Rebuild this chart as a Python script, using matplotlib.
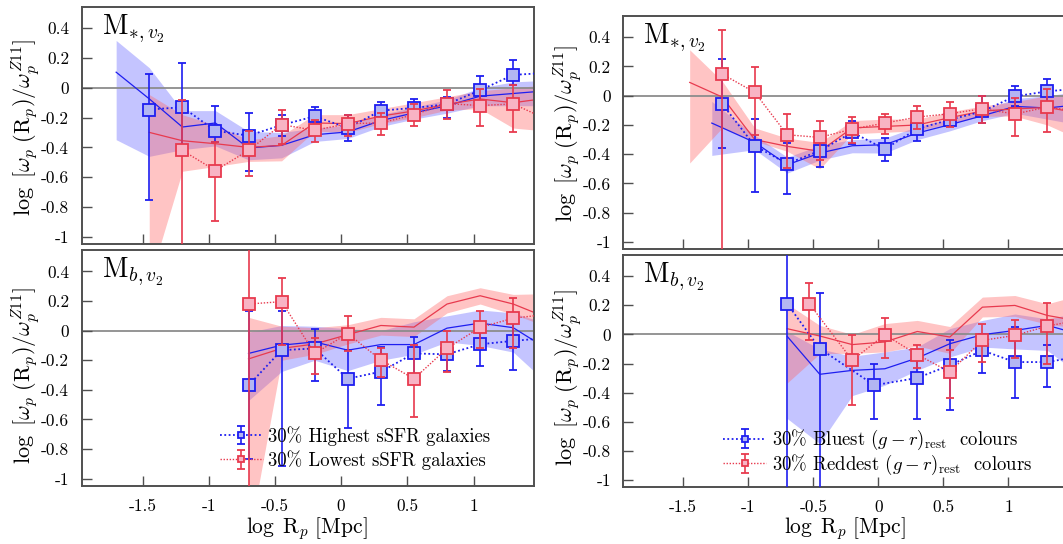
import numpy as np
import matplotlib
matplotlib.use("Agg")
import matplotlib.pyplot as plt

plt.rcParams["font.family"] = ["cmr10", "DejaVu Serif"]
plt.rcParams["mathtext.fontset"] = "cm"
plt.rcParams["axes.unicode_minus"] = False
plt.rcParams["axes.formatter.use_mathtext"] = True

# ---------------- data ----------------
x_pts = [-1.45, -1.2, -0.95, -0.7, -0.45, -0.2, 0.05, 0.3, 0.55, 0.8, 1.05, 1.3, 1.55]
nan = np.nan

# top-left: M*, sSFR split
a_blue_y = [-0.146, -0.13, -0.288, -0.321, -0.25, -0.191, -0.27, -0.153, -0.135, -0.11, -0.016, 0.087, 0.10]
a_blue_lo = [-0.752, -0.42, -0.366, -0.557, -0.32, -0.25, -0.355, -0.2, -0.2, -0.2, -0.12, 0.02, 0.02]
a_blue_hi = [0.096, 0.168, -0.124, -0.168, -0.18, -0.13, -0.18, -0.097, -0.074, -0.06, 0.078, 0.186, 0.2]
a_red_y = [nan, -0.42, -0.555, -0.42, -0.247, -0.285, -0.24, -0.236, -0.18, -0.106, -0.119, -0.108, -0.21]
a_red_lo = [nan, -1.3, -0.894, -0.59, -0.375, -0.366, -0.32, -0.315, -0.258, -0.209, -0.254, -0.299, -0.35]
a_red_hi = [nan, -0.079, -0.366, -0.29, -0.146, -0.218, -0.18, -0.17, -0.11, -0.016, -0.007, 0.022, 0.0]
a_bmod_x = [-1.7, -1.45, -1.2, -0.95, -0.7, -0.45, -0.2, 0.05, 0.3, 0.55, 0.8, 1.05, 1.3, 1.55]
a_bmod_y = [0.105, -0.074, -0.263, -0.236, -0.404, -0.386, -0.315, -0.296, -0.22, -0.168, -0.12, -0.056, -0.038, -0.02]
a_bmod_lo = [-0.348, -0.46, -0.415, -0.39, -0.483, -0.47, -0.36, -0.34, -0.26, -0.21, -0.17, -0.12, -0.12, -0.12]
a_bmod_hi = [0.318, 0.135, -0.153, -0.153, -0.292, -0.3, -0.27, -0.25, -0.18, -0.13, -0.08, 0.0, 0.04, 0.05]
a_rmod_x = [-1.45, -1.2, -0.95, -0.7, -0.45, -0.2, 0.05, 0.3, 0.55, 0.8, 1.05, 1.3, 1.55]
a_rmod_y = [-0.299, -0.355, -0.375, -0.4, -0.386, -0.236, -0.24, -0.19, -0.155, -0.11, -0.075, -0.1, -0.07]
a_rmod_lo = [-1.3, -0.56, -0.528, -0.494, -0.49, -0.29, -0.3, -0.24, -0.2, -0.15, -0.14, -0.27, -0.29]
a_rmod_hi = [-0.045, -0.18, -0.25, -0.35, -0.32, -0.18, -0.18, -0.14, -0.1, -0.06, -0.02, 0.0, 0.02]

# bottom-left: Mb, sSFR split
b_blue_y = [nan, nan, nan, -0.37, -0.132, -0.12, -0.325, -0.277, -0.154, -0.16, -0.092, -0.069, -0.05]
b_blue_lo = [nan, nan, nan, -0.87, -0.915, -0.339, -0.655, -0.503, -0.29, -0.27, -0.236, -0.265, -0.2]
b_blue_hi = [nan, nan, nan, 0.13, 0.136, 0.013, -0.13, -0.11, -0.043, -0.1, 0.02, 0.1, 0.1]
b_red_y = [nan, nan, nan, 0.18, 0.196, -0.154, -0.02, -0.198, -0.325, -0.12, 0.022, 0.084, 0.11]
b_red_lo = [nan, nan, nan, -1.5, -0.094, -0.293, -0.138, -0.31, -0.583, -0.28, -0.116, -0.116, -0.05]
b_red_hi = [nan, nan, nan, 0.8, 0.358, -0.053, 0.096, -0.12, -0.098, 0.0, 0.134, 0.22, 0.25]
b_bmod_x = [-0.7, -0.45, -0.2, 0.05, 0.3, 0.55, 0.8, 1.05, 1.3, 1.55]
b_bmod_y = [-0.154, -0.098, -0.076, -0.132, -0.094, -0.094, 0.017, 0.051, 0.02, -0.12]
b_bmod_lo = [-0.472, -0.276, -0.2, -0.27, -0.2, -0.16, -0.076, -0.1, -0.145, -0.35]
b_bmod_hi = [-0.01, 0.035, 0.03, 0.013, 0.0, 0.06, 0.1, 0.14, 0.12, 0.05]
b_rmod_x = [-0.7, -0.45, -0.2, 0.05, 0.3, 0.55, 0.8, 1.05, 1.3, 1.55]
b_rmod_y = [-0.191, -0.12, -0.09, -0.027, 0.035, 0.024, 0.18, 0.236, 0.18, 0.09]
b_rmod_lo = [-1.42, -0.2, -0.16, -0.09, -0.03, -0.04, 0.12, 0.18, 0.11, 0.03]
b_rmod_hi = [0.09, 0.03, 0.02, 0.04, 0.09, 0.08, 0.236, 0.29, 0.245, 0.25]

# top-right: M*, colour split
c_blue_y = [nan, -0.057, -0.342, -0.465, -0.376, -0.25, -0.365, -0.226, -0.164, -0.107, -0.004, 0.03, 0.05]
c_blue_lo = [nan, -0.36, -0.661, -0.67, -0.487, -0.33, -0.444, -0.312, -0.21, -0.187, -0.07, -0.04, -0.03]
c_blue_hi = [nan, 0.25, -0.16, -0.324, -0.27, -0.17, -0.289, -0.14, -0.1, -0.004, 0.068, 0.114, 0.12]
c_red_y = [nan, 0.148, 0.023, -0.267, -0.285, -0.228, -0.187, -0.146, -0.123, -0.089, -0.125, -0.077, -0.11]
c_red_lo = [nan, -1.3, -0.27, -0.494, -0.442, -0.324, -0.26, -0.228, -0.214, -0.187, -0.273, -0.248, -0.25]
c_red_hi = [nan, 0.451, 0.196, -0.125, -0.175, -0.148, -0.123, -0.073, -0.046, -0.004, -0.016, 0.045, 0.05]
c_bmod_x = [-1.28, -0.95, -0.7, -0.45, -0.2, 0.05, 0.3, 0.55, 0.8, 1.05, 1.3, 1.55]
c_bmod_y = [-0.187, -0.319, -0.472, -0.392, -0.342, -0.335, -0.255, -0.198, -0.137, -0.073, -0.084, -0.06]
c_bmod_lo = [-0.408, -0.369, -0.529, -0.44, -0.39, -0.392, -0.3, -0.24, -0.17, -0.12, -0.16, -0.2]
c_bmod_hi = [-0.039, -0.27, -0.42, -0.34, -0.3, -0.29, -0.21, -0.16, -0.1, -0.02, 0.0, 0.03]
c_rmod_x = [-1.45, -1.2, -0.95, -0.7, -0.45, -0.2, 0.05, 0.3, 0.55, 0.8, 1.05, 1.3, 1.55]
c_rmod_y = [0.091, -0.009, -0.3, -0.346, -0.38, -0.22, -0.21, -0.2, -0.15, -0.105, -0.09, -0.08, -0.12]
c_rmod_lo = [-0.46, -0.22, -0.31, -0.38, -0.5, -0.26, -0.25, -0.24, -0.19, -0.14, -0.14, -0.2, -0.3]
c_rmod_hi = [0.314, 0.1, -0.22, -0.29, -0.32, -0.17, -0.16, -0.16, -0.11, -0.07, -0.04, 0.0, 0.02]

# bottom-right: Mb, colour split
d_blue_x = [-0.7, -0.45, -0.03, 0.3, 0.55, 0.8, 1.05, 1.3, 1.55]
d_blue_y = [0.21, -0.098, -0.349, -0.299, -0.212, -0.11, -0.19, -0.19, -0.15]
d_blue_lo = [-1.5, -1.5, -0.582, -0.582, -0.52, -0.262, -0.436, -0.361, -0.3]
d_blue_hi = [1.0, 0.283, -0.205, -0.14, -0.041, 0.0, 0.05, -0.07, 0.0]
d_red_x = [-0.53, -0.2, 0.05, 0.3, 0.55, 0.8, 1.05, 1.3, 1.55]
d_red_y = [0.21, -0.178, -0.002, -0.139, -0.258, -0.041, -0.007, 0.057, 0.1]
d_red_lo = [-0.036, -0.482, -0.16, -0.228, -0.436, -0.19, -0.16, -0.2, -0.05]
d_red_hi = [0.354, -0.002, 0.112, -0.07, -0.11, 0.073, 0.1, 0.217, 0.25]
d_bmod_x = [-0.7, -0.45, -0.2, 0.05, 0.3, 0.55, 0.8, 1.05, 1.3, 1.55]
d_bmod_y = [-0.014, -0.274, -0.247, -0.236, -0.162, -0.064, -0.002, 0.027, 0.062, 0.0]
d_bmod_lo = [-0.578, -0.75, -0.42, -0.349, -0.246, -0.155, -0.087, -0.1, -0.11, -0.28]
d_bmod_hi = [0.02, -0.1, -0.15, -0.12, -0.086, 0.04, 0.096, 0.14, 0.107, 0.15]
d_rmod_x = [-0.7, -0.45, -0.2, 0.05, 0.3, 0.55, 0.8, 1.05, 1.3, 1.55]
d_rmod_y = [0.039, -0.011, -0.07, -0.052, 0.02, -0.018, 0.187, 0.199, 0.13, 0.09]
d_rmod_lo = [-0.333, -0.132, -0.13, -0.12, -0.08, -0.13, 0.12, 0.124, 0.07, 0.04]
d_rmod_hi = [0.21, 0.062, 0.0, 0.074, 0.096, 0.054, 0.256, 0.267, 0.21, 0.27]

x_ticks = [-1.5, -1, -0.5, 0, 0.5, 1]
x_ticklabels = ["-1.5", "-1", "-0.5", "0", "0.5", "1"]
y_ticks = [0.4, 0.2, 0, -0.2, -0.4, -0.6, -0.8, -1]
y_ticklabels = ["0.4", "0.2", "0", "-0.2", "-0.4", "-0.6", "-0.8", "-1"]

BLUE = "#1e1ef0"
BLUE_FACE = "#b3b6f2"
RED = "#e83a4e"
RED_FACE = "#f8b3c4"
FRAME = "#505050"

YLABEL = r"$\log\ [\omega_p\ (\mathrm{R}_p)/\omega_p^{Z11}]$"
XLABEL = r"$\log\ \mathrm{R}_p\ [\mathrm{Mpc}]$"


def errs(y, lo, hi):
    y = np.array(y, float)
    return [y - np.array(lo, float), np.array(hi, float) - y]


def panel(ax, bx, by, blo, bhi, rx, ry, rlo, rhi,
          bmx, bmy, bmlo, bmhi, rmx, rmy, rmlo, rmhi, label,
          leg=None, leg_x=0.3, leg_sp=0.25):
    ax.fill_between(bmx, bmlo, bmhi, color="#7d7dff", alpha=0.45, lw=0, zorder=1)
    ax.fill_between(rmx, rmlo, rmhi, color="#ff6464", alpha=0.38, lw=0, zorder=1.1)
    ax.axhline(0, color="#8c8c8c", lw=1.3, zorder=1.5)
    ax.plot(bmx, bmy, color=BLUE, lw=0.9, zorder=2)
    ax.plot(rmx, rmy, color=RED, lw=0.9, zorder=2)
    lb = leg[0] if leg else None
    lr = leg[1] if leg else None
    ax.errorbar(bx, by, yerr=errs(by, blo, bhi), fmt="s", ls=(0, (1, 1.4)), lw=1.3,
                color=BLUE, mfc=BLUE_FACE, mec=BLUE, ms=8.5, mew=1.3,
                elinewidth=1.2, capsize=3.2, capthick=1.2, zorder=3, label=lb)
    ax.errorbar(rx, ry, yerr=errs(ry, rlo, rhi), fmt="s", ls=(0, (1, 1.2)), lw=1.0,
                color=RED, mfc=RED_FACE, mec=RED, ms=8.5, mew=1.3,
                elinewidth=1.2, capsize=3.2, capthick=1.2, zorder=3.1, label=lr)
    ax.set_xlim(-1.96, 1.455)
    ax.set_ylim(-1.05, 0.545)
    ax.set_xticks(x_ticks)
    ax.set_yticks(y_ticks)
    ax.set_yticklabels(y_ticklabels)
    ax.tick_params(direction="in", length=7, width=1.0, color=FRAME,
                   labelsize=12.5, top=False, right=False)
    ax.tick_params(axis="x", pad=9)
    ax.tick_params(axis="y", pad=9)
    for s in ax.spines.values():
        s.set_color(FRAME)
        s.set_linewidth(1.4)
    ax.text(0.045, 0.975, label, transform=ax.transAxes, ha="left", va="top",
            fontsize=20)
    if leg:
        ax.legend(loc="upper left", bbox_to_anchor=(leg_x, 0.255), frameon=False,
                  fontsize=13.5, markerscale=0.55, handlelength=2.3,
                  handletextpad=0.3, labelspacing=leg_sp, borderpad=0, borderaxespad=0)


fig = plt.figure(figsize=(10.63, 5.44), dpi=100)

ax_a = fig.add_axes([0.0769, 0.551, 0.4252, 0.4368])
ax_b = fig.add_axes([0.0769, 0.1066, 0.4252, 0.4338])
ax_c = fig.add_axes([0.5864, 0.5417, 0.4179, 0.4289])
ax_d = fig.add_axes([0.5864, 0.1042, 0.4179, 0.4270])

panel(ax_a, x_pts, a_blue_y, a_blue_lo, a_blue_hi, x_pts, a_red_y, a_red_lo, a_red_hi,
      a_bmod_x, a_bmod_y, a_bmod_lo, a_bmod_hi, a_rmod_x, a_rmod_y, a_rmod_lo, a_rmod_hi,
      r"$\mathrm{M}_{*,v_2}$")
panel(ax_b, x_pts, b_blue_y, b_blue_lo, b_blue_hi, x_pts, b_red_y, b_red_lo, b_red_hi,
      b_bmod_x, b_bmod_y, b_bmod_lo, b_bmod_hi, b_rmod_x, b_rmod_y, b_rmod_lo, b_rmod_hi,
      r"$\mathrm{M}_{b,v_2}$",
      leg=["30% Highest sSFR galaxies", "30% Lowest sSFR galaxies"], leg_x=0.305)
panel(ax_c, x_pts, c_blue_y, c_blue_lo, c_blue_hi, x_pts, c_red_y, c_red_lo, c_red_hi,
      c_bmod_x, c_bmod_y, c_bmod_lo, c_bmod_hi, c_rmod_x, c_rmod_y, c_rmod_lo, c_rmod_hi,
      r"$\mathrm{M}_{*,v_2}$")
panel(ax_d, d_blue_x, d_blue_y, d_blue_lo, d_blue_hi, d_red_x, d_red_y, d_red_lo, d_red_hi,
      d_bmod_x, d_bmod_y, d_bmod_lo, d_bmod_hi, d_rmod_x, d_rmod_y, d_rmod_lo, d_rmod_hi,
      r"$\mathrm{M}_{b,v_2}$",
      leg=[r"30% Bluest $(g-r)_{\rm rest}$  colours", r"30% Reddest $(g-r)_{\rm rest}$  colours"],
      leg_x=0.225, leg_sp=0.02)

for ax in (ax_a, ax_c):
    ax.set_xticklabels([])
for ax in (ax_b, ax_d):
    ax.set_xticklabels(x_ticklabels)

fig.text(0.0245, 0.765, YLABEL, rotation=90, ha="center", va="center", fontsize=16)
fig.text(0.0245, 0.309, YLABEL, rotation=90, ha="center", va="center", fontsize=16)
fig.text(0.534, 0.7555, YLABEL, rotation=90, ha="center", va="center", fontsize=16)
fig.text(0.534, 0.306, YLABEL, rotation=90, ha="center", va="center", fontsize=16)
fig.text(307 / 1063, 0.003, XLABEL, ha="center", va="bottom", fontsize=15.5)
fig.text(845 / 1063, 0.003, XLABEL, ha="center", va="bottom", fontsize=15.5)

fig.savefig("out.png", dpi=100)
